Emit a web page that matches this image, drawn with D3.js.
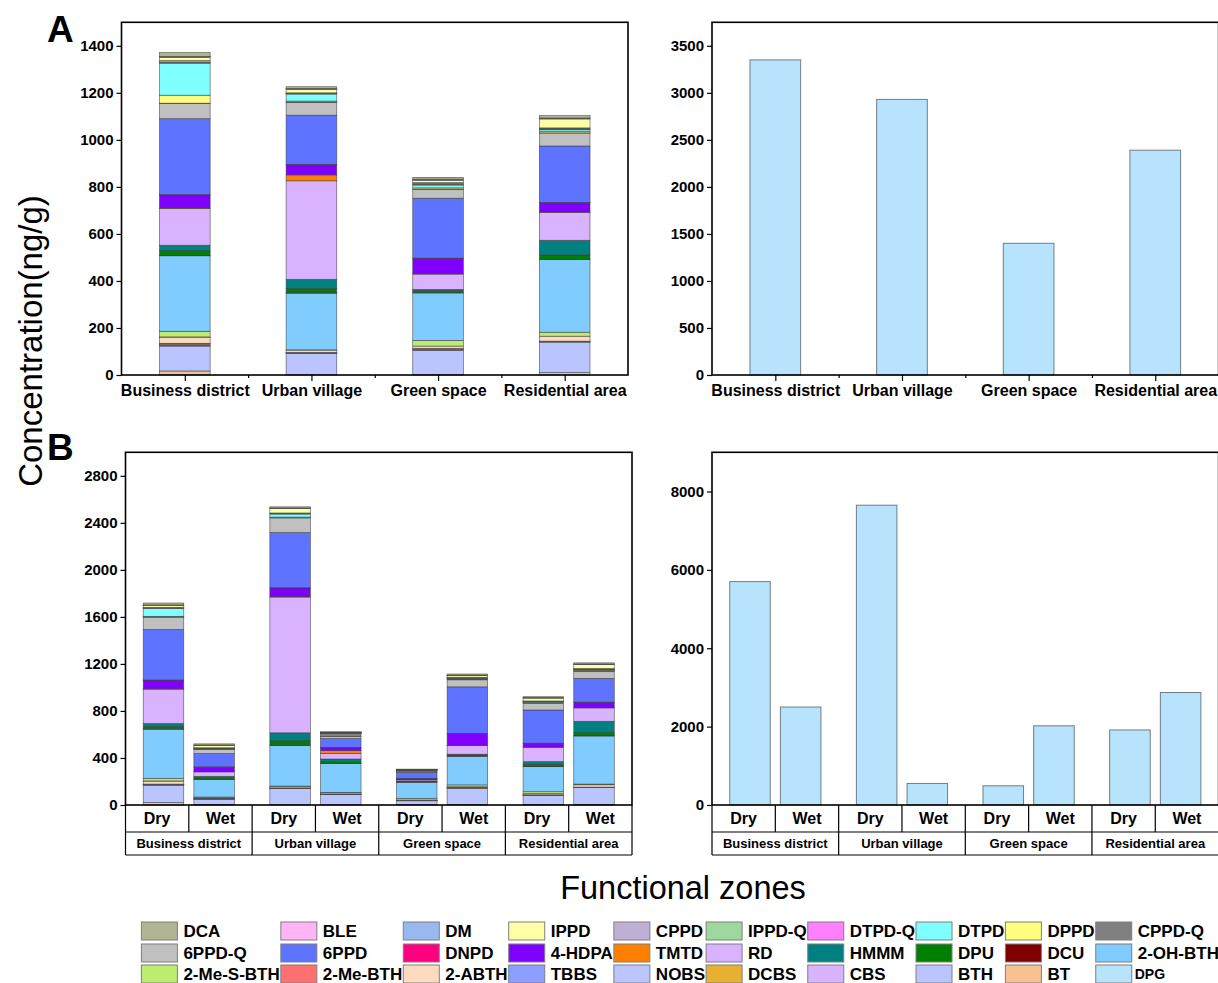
<!DOCTYPE html>
<html>
<head>
<meta charset="utf-8">
<script src="https://cdn.jsdelivr.net/npm/d3@7"></script>
<style>
  body { margin: 0; background: #fff; }
  svg { display: block; }
</style>
</head>
<body>
<svg id="chart" width="1218" height="983"></svg>
<script>
const FONT = "'Liberation Sans', Arial, Helvetica, sans-serif";

// ---- data -------------------------------------------------------------
const zones = ["Business district", "Urban village", "Green space", "Residential area"];
const seasons = ["Dry", "Wet"];

// stack order, bottom -> top
const compounds = [
  "BT", "BTH", "CBS", "DCBS", "NOBS", "TBBS", "2-ABTH", "2-Me-BTH", "2-Me-S-BTH", "2-OH-BTH",
  "DCU", "DPU", "HMMM", "RD", "TMTD", "4-HDPA", "DNPD", "6PPD", "6PPD-Q", "CPPD-Q",
  "DPPD", "DTPD", "DTPD-Q", "IPPD-Q", "CPPD", "IPPD", "DM", "BLE", "DCA"
];
const compoundColors = [
  "#F8C193", "#BAC4FF", "#D9B3FF", "#E8B030", "#BBC5FF", "#8C9EFF", "#FDDBBF", "#FF7070", "#BDED70", "#80CCFF",
  "#800000", "#008000", "#008080", "#D9B3FF", "#FF8000", "#8000FF", "#FF0080", "#5E73FF", "#C0C0C0", "#808080",
  "#FFFF80", "#80FFFF", "#FF80FF", "#9DD99D", "#BFB0D6", "#FFFFA6", "#99B8F0", "#FFB5F5", "#B2B591"
];
const dpgColor = "#B8E3FC";

// legend, row by row as in the figure
const legendRows = [
  ["DCA", "BLE", "DM", "IPPD", "CPPD", "IPPD-Q", "DTPD-Q", "DTPD", "DPPD", "CPPD-Q"],
  ["6PPD-Q", "6PPD", "DNPD", "4-HDPA", "TMTD", "RD", "HMMM", "DPU", "DCU", "2-OH-BTH"],
  ["2-Me-S-BTH", "2-Me-BTH", "2-ABTH", "TBBS", "NOBS", "DCBS", "CBS", "BTH", "BT", "DPG"]
];

// panel A: annual concentration (ng/g), values follow `compounds`
const annualBusiness    = [17, 106, 3, 5, 2, 2, 26, 1, 24, 321, 2, 20, 23, 156, 2, 56, 1, 323, 64, 2, 34, 136, 3, 2, 6, 14, 3, 1, 16];
const annualUrban       = [1, 91, 1, 1, 1, 1, 10, 0, 1, 241, 2, 18, 39, 419, 25, 44, 1, 209, 55, 1, 4, 30, 2, 1, 2, 15, 2, 1, 8];
const annualGreen       = [1, 103, 2, 4, 2, 1, 10, 0, 24, 202, 1, 9, 5, 65, 3, 64, 1, 255, 38, 1, 5, 12, 3, 3, 4, 10, 3, 2, 7];
const annualResidential = [10, 130, 1, 1, 1, 1, 21, 0, 17, 309, 1, 19, 62, 119, 1, 40, 1, 240, 55, 1, 5, 8, 3, 3, 2, 38, 3, 1, 10];

// panel B: dry / wet season
const dryBusiness    = [20, 148, 3, 3, 2, 2, 26, 1, 21, 419, 3, 19, 26, 293, 2, 74, 1, 430, 105, 3, 4, 66, 4, 2, 4, 16, 3, 1, 17];
const wetBusiness    = [4, 46, 1, 1, 1, 1, 5, 1, 8, 150, 3, 12, 11, 38, 3, 36, 4, 112, 36, 4, 3, 3, 1, 1, 2, 20, 2, 1, 10];
const dryUrban       = [2, 140, 1, 1, 1, 1, 13, 0, 2, 346, 4, 36, 67, 1155, 6, 71, 2, 469, 125, 3, 4, 26, 3, 2, 4, 38, 3, 1, 10];
const wetUrban       = [2, 89, 1, 1, 1, 1, 10, 0, 2, 245, 3, 14, 22, 46, 26, 24, 3, 75, 18, 26, 2, 2, 1, 1, 1, 2, 1, 1, 2];
const dryGreen       = [3, 33, 1, 1, 1, 1, 3, 0, 14, 137, 1, 4, 6, 10, 1, 9, 1, 50, 6, 14, 1, 1, 1, 1, 1, 1, 1, 0, 2];
const wetGreen       = [3, 139, 2, 3, 2, 1, 5, 0, 16, 244, 2, 10, 5, 74, 2, 100, 1, 396, 60, 6, 5, 3, 2, 2, 3, 14, 3, 1, 10];
const dryResidential = [3, 80, 1, 1, 1, 1, 10, 0, 16, 213, 2, 18, 23, 122, 2, 32, 1, 282, 58, 3, 3, 6, 2, 2, 3, 24, 3, 1, 8];
const wetResidential = [4, 144, 1, 1, 1, 1, 20, 0, 6, 409, 3, 26, 96, 114, 2, 46, 1, 202, 57, 10, 4, 5, 2, 2, 3, 35, 3, 1, 10];

// DPG (right-hand panels)
const dpgAnnual = [3350, 2930, 1400, 2390];
const dpgDry    = [5700, 7650, 490, 1915];
const dpgWet    = [2500, 550, 2020, 2870];

const annualRows = [annualBusiness, annualUrban, annualGreen, annualResidential];
const dryRows = [dryBusiness, dryUrban, dryGreen, dryResidential];
const wetRows = [wetBusiness, wetUrban, wetGreen, wetResidential];

const colorOf = new Map(compounds.map((c, i) => [c, compoundColors[i]]));
colorOf.set("DPG", dpgColor);

// ---- helpers ----------------------------------------------------------
const svg = d3.select("#chart").attr("font-family", FONT);

function makePanel(left, right, top, bottom, yMax) {
    const x = d3.scaleLinear().domain([0.5, 4.5]).range([left, right]);
    const y = d3.scaleLinear().domain([0, yMax]).range([bottom, top]);
    return { x, y, g: svg.append("g") };
}

function styleAxis(sel, size) {
    sel.attr("font-family", FONT).attr("font-size", size).attr("font-weight", "bold");
    sel.select(".domain").remove();
    sel.selectAll("line").attr("stroke", "#000").attr("stroke-width", 1.2);
    sel.selectAll("text").attr("fill", "#000");
}

function drawYAxis(p, ticks) {
    p.g.append("g")
        .attr("transform", `translate(${p.x.range()[0]},0)`)
        .call(d3.axisLeft(p.y).tickValues(ticks).tickFormat(d3.format("d")).tickSize(5).tickPadding(3))
        .call(a => styleAxis(a, 15));
}

function drawFrame(p) {
    const [x0, x1] = p.x.range();
    const [y0, y1] = p.y.range();
    p.g.append("rect")
        .attr("x", x0).attr("y", y1)
        .attr("width", x1 - x0).attr("height", y0 - y1)
        .attr("fill", "none").attr("stroke", "#000").attr("stroke-width", 1.6);
}

function drawZoneAxis(p) {
    const base = p.y.range()[0];
    p.g.append("g")
        .attr("transform", `translate(0,${base})`)
        .call(d3.axisBottom(p.x).tickValues([1, 2, 3, 4]).tickFormat(d => zones[d - 1]).tickSize(6).tickPadding(4))
        .call(a => styleAxis(a, 16));
    p.g.append("g")
        .attr("transform", `translate(0,${base})`)
        .call(d3.axisBottom(p.x).tickValues([1.5, 2.5, 3.5]).tickFormat("").tickSize(3))
        .call(a => styleAxis(a, 16));
}

function drawSeasonTable(p) {
    const x = p.x;
    const top = p.y.range()[0], mid = top + 27, bot = top + 50;
    const t = p.g.append("g").attr("stroke", "#000").attr("stroke-width", 1.2);
    const x0 = x(0.5), x1 = x(4.5);
    t.append("line").attr("x1", x0).attr("x2", x1).attr("y1", mid).attr("y2", mid);
    t.append("line").attr("x1", x0).attr("x2", x1).attr("y1", bot).attr("y2", bot);
    [0.5, 1.5, 2.5, 3.5, 4.5].forEach(v =>
        t.append("line").attr("x1", x(v)).attr("x2", x(v)).attr("y1", top).attr("y2", bot));
    [1, 2, 3, 4].forEach(v =>
        t.append("line").attr("x1", x(v)).attr("x2", x(v)).attr("y1", top).attr("y2", mid));

    zones.forEach((z, i) => {
        seasons.forEach((s, j) => {
            p.g.append("text")
                .attr("x", x(i + 1 + (j ? 0.25 : -0.25))).attr("y", (top + mid) / 2)
                .attr("dy", "0.36em").attr("text-anchor", "middle")
                .attr("font-size", 16).attr("font-weight", "bold").text(s);
        });
        p.g.append("text")
            .attr("x", x(i + 1)).attr("y", (mid + bot) / 2)
            .attr("dy", "0.36em").attr("text-anchor", "middle")
            .attr("font-size", 13).attr("font-weight", "bold").text(z);
    });
}

function drawStack(p, rows, barW) {
    const series = d3.stack()
        .keys(d3.range(compounds.length))
        .value((d, k) => d.values[k])(rows);

    p.g.append("g").selectAll("g")
        .data(series)
        .join("g")
        .attr("fill", s => compoundColors[s.key])
        .selectAll("rect")
        .data(s => s.filter(d => d[1] > d[0]))
        .join("rect")
        .attr("x", d => p.x(d.data.pos - barW / 2))
        .attr("width", d => p.x(d.data.pos + barW / 2) - p.x(d.data.pos - barW / 2))
        .attr("y", d => p.y(d[1]))
        .attr("height", d => p.y(d[0]) - p.y(d[1]))
        .attr("stroke", "#3a3a3a").attr("stroke-width", 0.7).attr("stroke-opacity", 0.75);
}

function drawBars(p, rows, barW) {
    p.g.append("g").selectAll("rect")
        .data(rows)
        .join("rect")
        .attr("x", d => p.x(d.pos - barW / 2))
        .attr("width", d => p.x(d.pos + barW / 2) - p.x(d.pos - barW / 2))
        .attr("y", d => p.y(d.value))
        .attr("height", d => p.y(0) - p.y(d.value))
        .attr("fill", dpgColor)
        .attr("stroke", "#6f7d86").attr("stroke-width", 1);
}

// ---- panel A ----------------------------------------------------------
const aLeft = makePanel(121.5, 628, 22.3, 375, 1500);
drawStack(aLeft, zones.map((z, i) => ({ pos: i + 1, values: annualRows[i] })), 0.4);
drawFrame(aLeft);
drawYAxis(aLeft, d3.range(0, 1401, 200));
drawZoneAxis(aLeft);

const aRight = makePanel(712, 1218.6, 22.3, 375, 3750);
drawBars(aRight, dpgAnnual.map((v, i) => ({ pos: i + 1, value: v })), 0.4);
drawFrame(aRight);
drawYAxis(aRight, d3.range(0, 3501, 500));
drawZoneAxis(aRight);

// ---- panel B ----------------------------------------------------------
const seasonalRows = (dry, wet) => zones.flatMap((z, i) => [
    { pos: i + 1 - 0.2, values: dry[i], value: dry[i] },
    { pos: i + 1 + 0.2, values: wet[i], value: wet[i] }
]);

const bLeft = makePanel(125.5, 632, 452.3, 805, 3000);
drawStack(bLeft, seasonalRows(dryRows, wetRows), 0.32);
drawFrame(bLeft);
drawYAxis(bLeft, d3.range(0, 2801, 400));
drawSeasonTable(bLeft);

const bRight = makePanel(712, 1218.6, 452.3, 805, 9000);
drawBars(bRight, seasonalRows(dpgDry, dpgWet), 0.32);
drawFrame(bRight);
drawYAxis(bRight, d3.range(0, 8001, 2000));
drawSeasonTable(bRight);

// ---- titles -----------------------------------------------------------
svg.append("text").attr("x", 47).attr("y", 42)
    .attr("font-size", 37).attr("font-weight", "bold").text("A");
svg.append("text").attr("x", 47).attr("y", 460)
    .attr("font-size", 37).attr("font-weight", "bold").text("B");

svg.append("text")
    .attr("transform", "translate(30,341) rotate(-90)")
    .attr("text-anchor", "middle").attr("dy", "0.35em")
    .attr("font-size", 33).text("Concentration(ng/g)");

svg.append("text")
    .attr("x", 683).attr("y", 888).attr("dy", "0.35em")
    .attr("text-anchor", "middle").attr("font-size", 32.5).text("Functional zones");

// ---- legend -----------------------------------------------------------
const legendX0 = 141.4, legendRowY = [931, 953, 974];
const swatchW = 36, swatchH = 18, textOffset = 42;
const legendItems = legendRows.flatMap((row, r) => row.map((name, c) => ({ name, r, c })));

const item = svg.append("g").selectAll("g")
    .data(legendItems)
    .join("g");

item.append("rect")
    .attr("x", 0).attr("y", d => legendRowY[d.r] - swatchH / 2)
    .attr("width", swatchW).attr("height", swatchH)
    .attr("fill", d => colorOf.get(d.name))
    .attr("stroke", "#7f7f7f").attr("stroke-width", 1);

item.append("text")
    .attr("x", d => d.name === "DPG" ? textOffset - 3 : textOffset)
    .attr("y", d => legendRowY[d.r]).attr("dy", "0.35em")
    .attr("font-size", d => d.name === "DPG" ? 14 : 17)
    .attr("font-weight", "bold")
    .text(d => d.name);

const colWidth = d3.range(10).map(c =>
    d3.max(item.filter(d => d.c === c).select("text").nodes(), n => n.getComputedTextLength()));
const colX = [legendX0];
for (let c = 1; c < 10; c++) colX[c] = colX[c - 1] + textOffset + colWidth[c - 1] + 1.1;

item.attr("transform", d => `translate(${colX[d.c]},0)`);
</script>
</body>
</html>
